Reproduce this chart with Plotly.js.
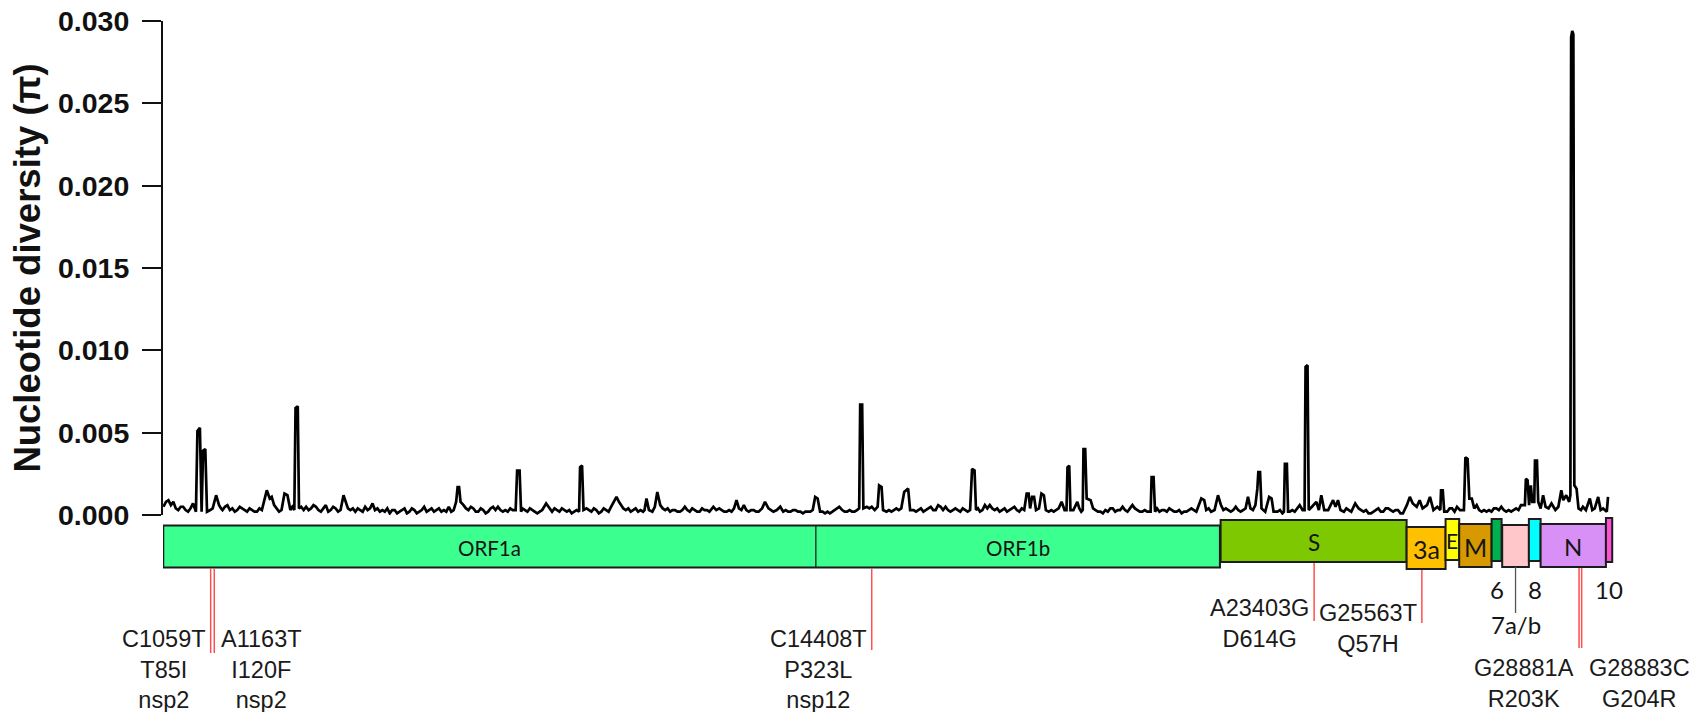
<!DOCTYPE html>
<html>
<head>
<meta charset="utf-8">
<script src="https://cdn.plot.ly/plotly-3.0.1.min.js"></script>
<style>html,body{margin:0;padding:0;background:#fff;}</style>
</head>
<body>
<div id="chart" style="width:1700px;height:712px;"></div>
<script>
// ===================== DATA =====================
// Sliding-window nucleotide diversity (pi) along the SARS-CoV-2 genome, [position (nt), pi]
const windows0to5k = [
  [100,.0005],[150,.0008],[200,.0009],[250,.0006],[300,.0008],[350,.0004],[400,.0003],[450,.0005],[500,.0005],[550,.0003],
  [600,.0002],[650,.0004],[700,.0007],[760,.0002],[790,.0051],[840,.0053],[875,.0002],[905,.0039],[950,.0040],[985,.0002],
  [1050,.0003],[1100,.0004],[1170,.0012],[1230,.0006],[1270,.0004],[1300,.0003],[1350,.0005],[1400,.0006],[1450,.0003],[1500,.0004],
  [1550,.0002],[1600,.0003],[1650,.0005],[1700,.0004],[1750,.0003],[1800,.0002],[1850,.0004],[1900,.0003],[1950,.0002],[2000,.0002],
  [2050,.0004],[2100,.0003],[2200,.0015],[2260,.0010],[2300,.0011],[2350,.0006],[2400,.0004],[2450,.0002],[2500,.0003],[2560,.0013],
  [2620,.0012],[2680,.0003],[2720,.0005],[2760,.0003],[2785,.0065],[2830,.0066],[2855,.0004],[2900,.0005],[2950,.0003],[3000,.0005],
  [3050,.0003],[3100,.0004],[3150,.0006],[3200,.0005],[3250,.0003],[3300,.0002],[3350,.0004],[3400,.0006],[3450,.0002],[3500,.0003],
  [3550,.0005],[3600,.0004],[3650,.0002],[3700,.0003],[3760,.0012],[3800,.0008],[3850,.0004],[3900,.0003],[3950,.0004],[4000,.0002],
  [4050,.0004],[4100,.0003],[4150,.0002],[4200,.0005],[4250,.0003],[4300,.0004],[4350,.0007],[4400,.0003],[4450,.0004],[4500,.0002],
  [4550,.0003],[4600,.0002],[4650,.0004],[4700,.0001],[4750,.0003],[4800,.0003],[4850,.0001],[4900,.0002],[4950,.0003],[5000,.0004]
];
const windows5kto10k = [
  [5050,.0001],[5100,.0002],[5150,.0004],[5200,.0003],[5250,.0001],[5300,.0002],[5350,.0003],[5400,.0005],[5450,.0002],[5500,.0003],
  [5550,.0004],[5600,.0002],[5650,.0003],[5700,.0004],[5750,.0002],[5800,.0003],[5850,.0002],[5900,.0005],[5950,.0002],[6000,.0003],
  [6050,.0008],[6080,.0017],[6110,.0017],[6140,.0008],[6200,.0006],[6250,.0004],[6300,.0003],[6350,.0005],[6400,.0004],[6450,.0002],
  [6500,.0002],[6550,.0004],[6600,.0003],[6650,.0001],[6700,.0002],[6750,.0004],[6800,.0005],[6850,.0003],[6900,.0005],[6950,.0003],
  [7000,.0002],[7050,.0003],[7100,.0002],[7150,.0004],[7200,.0003],[7260,.0003],[7290,.0027],[7340,.0027],[7370,.0002],[7400,.0004],
  [7450,.0003],[7500,.0002],[7550,.0004],[7600,.0003],[7650,.0002],[7700,.0001],[7750,.0002],[7800,.0003],[7880,.0007],[7950,.0004],
  [8000,.0002],[8050,.0004],[8100,.0003],[8150,.0002],[8200,.0004],[8250,.0003],[8300,.0002],[8350,.0003],[8400,.0001],[8450,.0002],
  [8500,.0003],[8550,.0002],[8570,.0029],[8610,.0030],[8640,.0003],[8700,.0004],[8750,.0003],[8800,.0002],[8850,.0004],[8900,.0003],
  [8950,.0001],[9000,.0002],[9050,.0004],[9100,.0003],[9150,.0002],[9200,.0005],[9310,.0011],[9360,.0008],[9400,.0006],[9450,.0004],
  [9500,.0003],[9550,.0004],[9600,.0002],[9650,.0003],[9700,.0004],[9750,.0002],[9800,.0003],[9850,.0002],[9880,.0003],[9920,.0010],
  [9970,.0003],[10040,.0002]
];
const windows10kto15k = [
  [10090,.0005],[10140,.0014],[10200,.0006],[10250,.0004],[10300,.0003],[10350,.0004],[10400,.0002],[10450,.0003],[10500,.0003],[10550,.0002],
  [10600,.0002],[10650,.0003],[10700,.0005],[10750,.0003],[10800,.0002],[10850,.0004],[10900,.0003],[10950,.0002],[11000,.0002],[11050,.0004],
  [11100,.0003],[11150,.0003],[11200,.0002],[11280,.0005],[11340,.0003],[11400,.0004],[11450,.0003],[11500,.0002],[11550,.0002],[11600,.0003],
  [11650,.0002],[11700,.0004],[11750,.0009],[11800,.0004],[11850,.0003],[11900,.0006],[11950,.0003],[12000,.0002],[12050,.0003],[12100,.0003],
  [12150,.0002],[12200,.0002],[12270,.0004],[12330,.0008],[12400,.0004],[12450,.0003],[12500,.0002],[12570,.0003],[12640,.0005],[12700,.0002],
  [12750,.0003],[12800,.0002],[12850,.0002],[12900,.0003],[12950,.0003],[13000,.0002],[13050,.0002],[13100,.0001],[13150,.0002],[13200,.0002],
  [13250,.0002],[13300,.0003],[13350,.0011],[13400,.0010],[13450,.0002],[13500,.0002],[13550,.0001],[13600,.0002],[13650,.0001],[13700,.0002],
  [13750,.0003],[13840,.0005],[13900,.0003],[13950,.0002],[14000,.0002],[14050,.0003],[14100,.0002],[14150,.0002],[14200,.0003],[14245,.0004],
  [14265,.0067],[14305,.0067],[14330,.0004],[14400,.0005],[14450,.0004],[14500,.0005],[14560,.0003],[14620,.0005],[14650,.0018],[14700,.0017],
  [14730,.0003],[14800,.0002],[14850,.0003],[14900,.0002],[14950,.0003],[15000,.0004]
];
const windows15kto20k = [
  [15050,.0003],[15100,.0004],[15160,.0014],[15240,.0016],[15280,.0003],[15350,.0003],[15400,.0002],[15450,.0003],[15500,.0004],[15550,.0002],
  [15600,.0003],[15650,.0004],[15700,.0005],[15750,.0003],[15800,.0003],[15850,.0006],[15900,.0005],[15950,.0003],[16000,.0005],[16050,.0003],
  [16100,.0002],[16150,.0003],[16200,.0004],[16250,.0003],[16300,.0002],[16350,.0004],[16400,.0003],[16450,.0002],[16500,.0003],[16540,.0028],
  [16590,.0027],[16620,.0003],[16660,.0004],[16700,.0002],[16750,.0003],[16800,.0006],[16850,.0004],[16900,.0006],[16950,.0004],[17000,.0003],
  [17050,.0004],[17100,.0002],[17150,.0003],[17200,.0004],[17250,.0002],[17300,.0003],[17350,.0004],[17400,.0005],[17450,.0003],[17500,.0002],
  [17550,.0004],[17600,.0003],[17650,.0013],[17690,.0013],[17720,.0004],[17760,.0011],[17800,.0011],[17840,.0003],[17900,.0004],[17950,.0013],
  [18000,.0012],[18040,.0003],[18100,.0002],[18150,.0003],[18200,.0002],[18250,.0003],[18300,.0004],[18360,.0008],[18420,.0003],[18460,.0003],
  [18480,.0029],[18515,.0030],[18540,.0003],[18600,.0003],[18680,.0008],[18720,.0004],[18760,.0002],[18790,.0003],[18805,.0040],[18840,.0040],
  [18870,.0010],[18950,.0009],[19000,.0004],[19050,.0003],[19100,.0002],[19150,.0002],[19200,.0001],[19250,.0003],[19300,.0002],[19350,.0004],
  [19400,.0004],[19450,.0002],[19500,.0003],[19550,.0003],[19600,.0005],[19650,.0003],[19700,.0002],[19750,.0004],[19800,.0006],[19850,.0004],
  [19900,.0003],[19950,.0002],[20000,.0002]
];
const windows20kto25k = [
  [20050,.0003],[20100,.0002],[20170,.0002],[20190,.0023],[20230,.0023],[20260,.0002],[20300,.0004],[20350,.0002],[20400,.0003],[20450,.0003],
  [20500,.0002],[20550,.0004],[20600,.0003],[20650,.0002],[20700,.0002],[20750,.0003],[20800,.0001],[20850,.0002],[20900,.0002],[20950,.0003],
  [21000,.0004],[21050,.0003],[21100,.0002],[21200,.0010],[21260,.0009],[21300,.0003],[21350,.0004],[21400,.0002],[21470,.0003],[21540,.0012],
  [21600,.0006],[21650,.0003],[21700,.0004],[21750,.0003],[21800,.0002],[21850,.0003],[21900,.0005],[21950,.0003],[22000,.0002],[22050,.0003],
  [22100,.0004],[22150,.0011],[22200,.0004],[22250,.0003],[22300,.0006],[22340,.0016],[22360,.0026],[22395,.0026],[22425,.0004],[22500,.0002],
  [22580,.0011],[22630,.0010],[22670,.0002],[22750,.0002],[22800,.0003],[22850,.0001],[22880,.0002],[22900,.0031],[22940,.0031],[22965,.0002],
  [23000,.0002],[23050,.0003],[23100,.0002],[23200,.0006],[23260,.0003],[23300,.0003],[23320,.0090],[23360,.0091],[23385,.0003],[23450,.0005],
  [23540,.0008],[23590,.0003],[23640,.0012],[23700,.0003],[23780,.0003],[23880,.0009],[23930,.0005],[23980,.0009],[24030,.0003],[24100,.0002],
  [24150,.0004],[24200,.0003],[24250,.0002],[24330,.0007],[24400,.0004],[24450,.0003],[24500,.0002],[24550,.0003],[24600,.0001],[24650,.0001],
  [24700,.0002],[24750,.0003],[24800,.0004],[24850,.0002],[24900,.0002],[24950,.0004],[25000,.0004]
];
const windows25kToEnd = [
  [25050,.0003],[25100,.0002],[25150,.0003],[25200,.0003],[25250,.0001],[25300,.0001],[25380,.0006],[25440,.0011],[25500,.0007],[25580,.0005],
  [25640,.0009],[25700,.0004],[25790,.0006],[25850,.0011],[25920,.0003],[26000,.0005],[26060,.0003],[26075,.0015],[26110,.0015],[26140,.0002],
  [26200,.0002],[26250,.0004],[26300,.0004],[26350,.0002],[26400,.0005],[26460,.0003],[26540,.0003],[26570,.0035],[26615,.0034],[26650,.0010],
  [26700,.0010],[26750,.0004],[26800,.0006],[26850,.0003],[26900,.0002],[26950,.0003],[27000,.0002],[27050,.0003],[27100,.0002],[27150,.0004],
  [27200,.0004],[27250,.0003],[27300,.0005],[27350,.0003],[27400,.0002],[27450,.0003],[27500,.0002],[27550,.0003],[27600,.0004],[27650,.0003],
  [27700,.0006],[27780,.0006],[27800,.0022],[27835,.0021],[27865,.0006],[27900,.0018],[27930,.0008],[27970,.0008],[27985,.0033],[28025,.0033],
  [28050,.0008],[28100,.0004],[28150,.0012],[28200,.0005],[28260,.0004],[28320,.0007],[28400,.0003],[28460,.0005],[28520,.0015],[28560,.0009],
  [28620,.0012],[28680,.0008],[28705,.0012],[28720,.0290],[28742,.0294],[28765,.0292],[28785,.0018],[28830,.0016],[28870,.0004],[28920,.0003],
  [28960,.0005],[29020,.0003],[29100,.0010],[29150,.0003],[29200,.0004],[29270,.0011],[29320,.0003],[29370,.0004],[29420,.0003],[29445,.0002],
  [29470,.0011]
];

const yTickValues = [0, 0.005, 0.010, 0.015, 0.020, 0.025, 0.030];
const yTickLabels = ['0.000', '0.005', '0.010', '0.015', '0.020', '0.025', '0.030'];

// Genome map (schematic extents as drawn in the figure, nt)
const geneNames = ['ORF1a', 'ORF1b', 'S', '3a', 'E', 'M', '6', '7a/b', '8', 'N', '10'];
const geneStart = [95, 13366, 21593, 25375, 26167, 26444, 27103, 27318, 27861, 28099, 29427];
const geneEnd   = [13366, 21579, 25375, 26167, 26444, 27103, 27306, 27861, 28099, 29427, 29555];

// Highlighted mutations
const mutNt   = ['C1059T', 'A1163T', 'C14408T', 'A23403G', 'G25563T', 'G28881A', 'G28883C'];
const mutPos  = [1059, 1163, 14408, 23403, 25563, 28881, 28883];
const mutAA   = ['T85I', 'I120F', 'P323L', 'D614G', 'Q57H', 'R203K', 'G204R'];
const mutProt = ['nsp2', 'nsp2', 'nsp12', '', '', '', ''];

// ===================== STYLE / LAYOUT =====================
const windows = [].concat(windows0to5k, windows5kto10k, windows10kto15k,
                          windows15kto20k, windows20kto25k, windows25kToEnd);

const W = 1700, H = 712;
const M = {l: 163, r: 60, t: 21, b: 197};
const plotH = H - M.t - M.b;           // 494
const py = p => (H - M.b - p) / plotH; // pixel row -> paper y

const geneFill = ['#3BFF8F', '#3BFF8F', '#7DC800', '#FFC000', '#FFFF00', '#D69A00',
                  '#00B050', '#FFC7C9', '#00FFFF', '#D890F6', '#FF4FD2'];
const geneTopPx = [525.5, 525.5, 520, 527, 519, 524, 519, 525, 519, 524, 518];
const geneBotPx = [567.5, 567.5, 562, 569, 560, 567, 561, 567, 561, 567, 562];
const geneLabelMode = ['in', 'in', 'in', 'in', 'in', 'in', 'below', 'leader', 'below', 'in', 'below'];
const geneLabelSize = [20.5, 20.5, 22.5, 25, 21, 25, 24, 24, 24, 24, 24];
const borderColor = '#1c1c1c';
const geneFont = 'Lato, "Liberation Sans", sans-serif';

const mutSide   = ['left', 'right', 'left', 'left', 'left', 'left', 'right']; // label side of the line
const mutShift  = [0, -1.5, 4.5, 4.5, 6, 0, 2.5];   // px nudge of leader line
const mutTextPx = [640, 640, 640, 609, 614, 669, 669]; // centre of first text row
const mutEndPx  = [653, 653, 650, 621, 623, 648, 648];
const mutColor  = 'rgba(255,70,70,0.95)';

const shapes = [];
const annotations = [];

geneNames.forEach((g, i) => {
  const isOrf1 = i < 2;
  shapes.push({
    type: 'rect', xref: 'x', yref: 'paper', layer: 'above',
    x0: geneStart[i], x1: geneEnd[i], y0: py(geneBotPx[i]), y1: py(geneTopPx[i]),
    fillcolor: geneFill[i], line: {color: borderColor, width: isOrf1 ? 1 : 2}
  });
  const cx = (geneStart[i] + geneEnd[i]) / 2;
  const font = {family: geneFont, size: geneLabelSize[i], color: '#151515'};
  if (geneLabelMode[i] === 'in') {
    annotations.push({
      xref: 'x', yref: 'paper', x: cx, y: py((geneTopPx[i] + geneBotPx[i]) / 2 + 1),
      text: g, showarrow: false, xanchor: 'center', yanchor: 'middle', font: font
    });
  } else if (geneLabelMode[i] === 'below') {
    annotations.push({
      xref: 'x', yref: 'paper', x: cx, y: py(589),
      text: g, showarrow: false, xanchor: 'center', yanchor: 'middle', font: font
    });
  } else {
    shapes.push({
      type: 'line', xref: 'x', yref: 'paper', layer: 'above',
      x0: cx, x1: cx, y0: py(geneBotPx[i]), y1: py(613),
      line: {color: '#555555', width: 1.3}
    });
    annotations.push({
      xref: 'x', yref: 'paper', x: cx, y: py(624),
      text: g, showarrow: false, xanchor: 'center', yanchor: 'middle', font: font
    });
  }
});
// outer frame of the ORF1ab block (thin divider between 1a and 1b)
shapes.push({
  type: 'rect', xref: 'x', yref: 'paper', layer: 'above',
  x0: geneStart[0], x1: geneEnd[1], y0: py(geneBotPx[0]), y1: py(geneTopPx[0]),
  fillcolor: 'rgba(0,0,0,0)', line: {color: borderColor, width: 2}
});

mutNt.forEach((m, i) => {
  const gi = geneNames.findIndex((g, j) => mutPos[i] >= geneStart[j] && mutPos[i] <= geneEnd[j]);
  shapes.push({
    type: 'line', xref: 'x', yref: 'paper', layer: 'above',
    xsizemode: 'pixel', xanchor: mutPos[i], x0: mutShift[i], x1: mutShift[i],
    y0: py(geneBotPx[gi] + 1), y1: py(mutEndPx[i]),
    line: {color: mutColor, width: 1.5}
  });
  const rows = [m, mutAA[i]];
  if (mutProt[i]) rows.push(mutProt[i]);
  const left = mutSide[i] === 'left';
  annotations.push({
    xref: 'x', yref: 'paper', x: mutPos[i], y: py(mutTextPx[i] - 16),
    xshift: mutShift[i] + (left ? -3 : 5),
    text: rows.join('<br>'), showarrow: false, align: 'center',
    xanchor: left ? 'right' : 'left', yanchor: 'top',
    font: {family: '"Liberation Sans", Arial, sans-serif', size: 23.5, color: '#1a1a1a'}
  });
});

const trace = {
  x: windows.map(w => w[0]), y: windows.map(w => w[1]),
  type: 'scatter', mode: 'lines',
  line: {color: '#000000', width: 2.7, shape: 'linear'},
  hoverinfo: 'skip', showlegend: false
};

const layout = {
  width: W, height: H,
  margin: M,
  paper_bgcolor: '#ffffff', plot_bgcolor: '#ffffff',
  showlegend: false,
  xaxis: {range: [90, 30120], visible: false, fixedrange: true},
  yaxis: {
    range: [0, 0.030], tickvals: yTickValues, ticktext: yTickLabels,
    ticks: 'outside', ticklen: 19, tickwidth: 2, tickcolor: '#111',
    showline: true, linewidth: 2, linecolor: '#111',
    showgrid: false, zeroline: false, fixedrange: true,
    ticklabelstandoff: 7,
    tickfont: {family: '"Liberation Sans", Arial, sans-serif', size: 28.5, weight: 'bold', color: '#111'},
    title: {
      text: 'Nucleotide diversity (π)', standoff: 6,
      font: {family: '"Liberation Sans", Arial, sans-serif', size: 36.5, weight: 'bold', color: '#111'}
    }
  },
  shapes: shapes,
  annotations: annotations
};

Plotly.newPlot('chart', [trace], layout, {displayModeBar: false, staticPlot: true});
</script>
</body>
</html>
